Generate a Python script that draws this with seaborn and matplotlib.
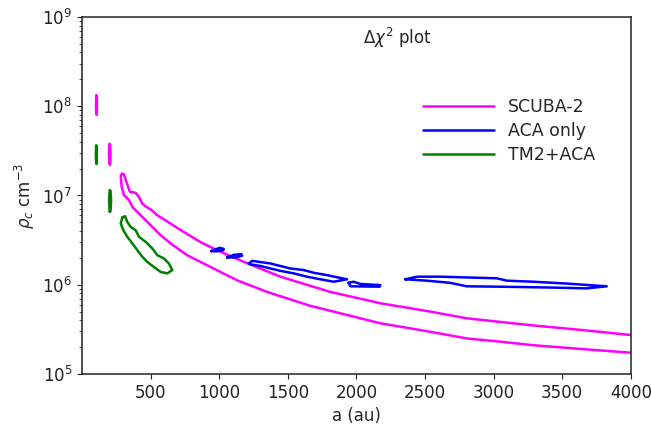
import numpy as np
import pandas as pd
import matplotlib
matplotlib.use("Agg")
import matplotlib.pyplot as plt
import seaborn as sns

# ---------------- data ----------------
series_names = ["SCUBA-2", "ACA only", "TM2+ACA"]
series_colors = ["#ff00ff", "#0000ff", "#008000"]

# SCUBA-2 band: upper edge (tip -> right) and lower edge (tip -> right)
scuba_upper_a = [305, 323, 349, 391, 415, 440, 471, 500, 549, 622, 718, 864,
                 1000, 1200, 1446, 1810, 2174, 2538, 2805, 3287, 3651, 4000]
scuba_upper_rho = [1.73e7, 1.42e7, 1.10e7, 1.07e7, 9.6e6, 8.1e6, 7.4e6, 7.0e6,
                   6.0e6, 5.1e6, 4.1e6, 3.0e6, 2.37e6, 1.75e6, 1.23e6, 8.3e5,
                   6.2e5, 5.0e5, 4.2e5, 3.5e5, 3.1e5, 2.73e5]
scuba_lower_a = [293, 282, 289, 306, 342, 367, 403, 440, 476, 524, 573, 646, 767,
                 937, 1131, 1349, 1664, 2174, 2538, 2805, 3048, 3287, 3650, 4000]
scuba_lower_rho = [1.76e7, 1.66e7, 1.25e7, 1.01e7, 8.9e6, 7.45e6, 6.55e6, 5.75e6,
                   5.06e6, 4.27e6, 3.59e6, 2.9e6, 2.14e6, 1.58e6, 1.12e6, 8.3e5,
                   5.8e5, 3.7e5, 2.97e5, 2.5e5, 2.3e5, 2.1e5, 1.9e5, 1.73e5]
# SCUBA-2 small islands
scuba_isl1_a = [104, 107, 109, 107, 104, 102, 104]
scuba_isl1_rho = [8.3e7, 8.0e7, 1.0e8, 1.3e8, 1.33e8, 1.0e8, 8.3e7]
scuba_isl2_a = [200, 204, 208, 205, 200, 197, 200]
scuba_isl2_rho = [2.3e7, 2.2e7, 2.8e7, 3.7e7, 3.8e7, 2.9e7, 2.3e7]

# ACA only islands
aca1_a = [942, 1004, 1033, 1030, 975, 942]
aca1_rho = [2.38e6, 2.59e6, 2.52e6, 2.44e6, 2.36e6, 2.38e6]
aca2_a = [1058, 1106, 1160, 1167, 1119, 1058]
aca2_rho = [2.02e6, 2.16e6, 2.2e6, 2.11e6, 2.02e6, 2.02e6]
aca3_a = [1215, 1240, 1373, 1446, 1519, 1616, 1689, 1786, 1883, 1932,
          1834, 1737, 1640, 1543, 1446, 1373, 1301, 1228, 1215]
aca3_rho = [1.73e6, 1.85e6, 1.73e6, 1.62e6, 1.52e6, 1.46e6, 1.36e6, 1.28e6, 1.19e6,
            1.15e6, 1.08e6, 1.15e6, 1.23e6, 1.34e6, 1.43e6, 1.52e6, 1.62e6, 1.69e6, 1.73e6]
aca4_a = [1943, 1980, 2028, 2174, 2169, 1956, 1943]
aca4_rho = [1.05e6, 1.08e6, 1.02e6, 9.9e5, 9.5e5, 9.6e5, 1.05e6]
aca5_a = [2356, 2441, 2611, 3023, 3096, 3290, 3533, 3824,
          3678, 3411, 3047, 2805, 2683, 2514, 2356]
aca5_rho = [1.15e6, 1.23e6, 1.23e6, 1.18e6, 1.11e6, 1.08e6, 1.03e6, 9.6e5,
            9.1e5, 9.3e5, 9.5e5, 9.6e5, 1.05e6, 1.11e6, 1.15e6]

# TM2+ACA islands
tm_isl1_a = [103, 106, 108, 106, 103, 101, 103]
tm_isl1_rho = [2.3e7, 2.25e7, 2.9e7, 3.6e7, 3.65e7, 2.9e7, 2.3e7]
tm_isl2_a = [202, 208, 212, 208, 202, 197, 202]
tm_isl2_rho = [6.6e6, 6.7e6, 8.8e6, 1.12e7, 1.15e7, 8.8e6, 6.6e6]
tm_band_a = [294, 313, 330, 354, 391, 415, 464, 512, 549, 597, 633, 658,
             622, 573, 524, 476, 440, 403, 367, 330, 301, 282, 294]
tm_band_rho = [5.67e6, 5.86e6, 5.06e6, 4.45e6, 4.08e6, 3.44e6, 3.02e6, 2.55e6,
               2.14e6, 1.97e6, 1.73e6, 1.46e6, 1.34e6, 1.39e6, 1.58e6, 1.80e6,
               2.05e6, 2.44e6, 2.90e6, 3.44e6, 4.08e6, 4.86e6, 5.67e6]

x_ticks = [500, 1000, 1500, 2000, 2500, 3000, 3500, 4000]

# ---------------- assemble long table ----------------
pieces = [
    ("SCUBA-2", "s_band", scuba_upper_a[::-1] + scuba_lower_a, scuba_upper_rho[::-1] + scuba_lower_rho),
    ("SCUBA-2", "s_i1", scuba_isl1_a, scuba_isl1_rho),
    ("SCUBA-2", "s_i2", scuba_isl2_a, scuba_isl2_rho),
    ("ACA only", "a1", aca1_a, aca1_rho),
    ("ACA only", "a2", aca2_a, aca2_rho),
    ("ACA only", "a3", aca3_a, aca3_rho),
    ("ACA only", "a4", aca4_a, aca4_rho),
    ("ACA only", "a5", aca5_a, aca5_rho),
    ("TM2+ACA", "t_i1", tm_isl1_a, tm_isl1_rho),
    ("TM2+ACA", "t_i2", tm_isl2_a, tm_isl2_rho),
    ("TM2+ACA", "t_band", tm_band_a, tm_band_rho),
]
rows = []
for name, pid, xs, ys in pieces:
    for i, (xv, yv) in enumerate(zip(xs, ys)):
        rows.append({"a": xv, "rho": yv, "series": name, "piece": pid, "order": i})
df = pd.DataFrame(rows)

# ---------------- plot ----------------
sns.set_style("ticks")
plt.rcParams["font.family"] = ["DejaVu Sans"]
plt.rcParams["mathtext.fontset"] = "dejavusans"

fig = plt.figure(figsize=(6.51, 4.24), dpi=100)
ax = fig.add_axes([0.126, 0.118, 0.843, 0.842])

sns.lineplot(data=df, x="a", y="rho", hue="series", units="piece",
             estimator=None, sort=False, hue_order=series_names,
             palette=series_colors, linewidth=1.8, ax=ax)

ax.set_yscale("log")
ax.set_xlim(0, 4000)
ax.set_ylim(1e5, 1e9)
ax.set_xticks(x_ticks)
ax.tick_params(axis="both", labelsize=12, colors="#222222", direction="out")
for s in ax.spines.values():
    s.set_visible(True)
    s.set_color("#222222")
    s.set_linewidth(1.1)

ax.set_xlabel("a (au)", fontsize=12)
ax.set_ylabel(r"$\rho_c$ cm$^{-3}$", fontsize=12)

ax.text(0.574, 0.94, r"$\Delta\chi^2$ plot", transform=ax.transAxes,
        ha="center", va="center", fontsize=12)

ax.legend(frameon=False, loc="upper left", bbox_to_anchor=(0.608, 0.792),
          fontsize=12.5, handlelength=4.1, handletextpad=0.8,
          labelspacing=0.35, borderaxespad=0.0, title=None)

fig.savefig("out.png", dpi=100)
